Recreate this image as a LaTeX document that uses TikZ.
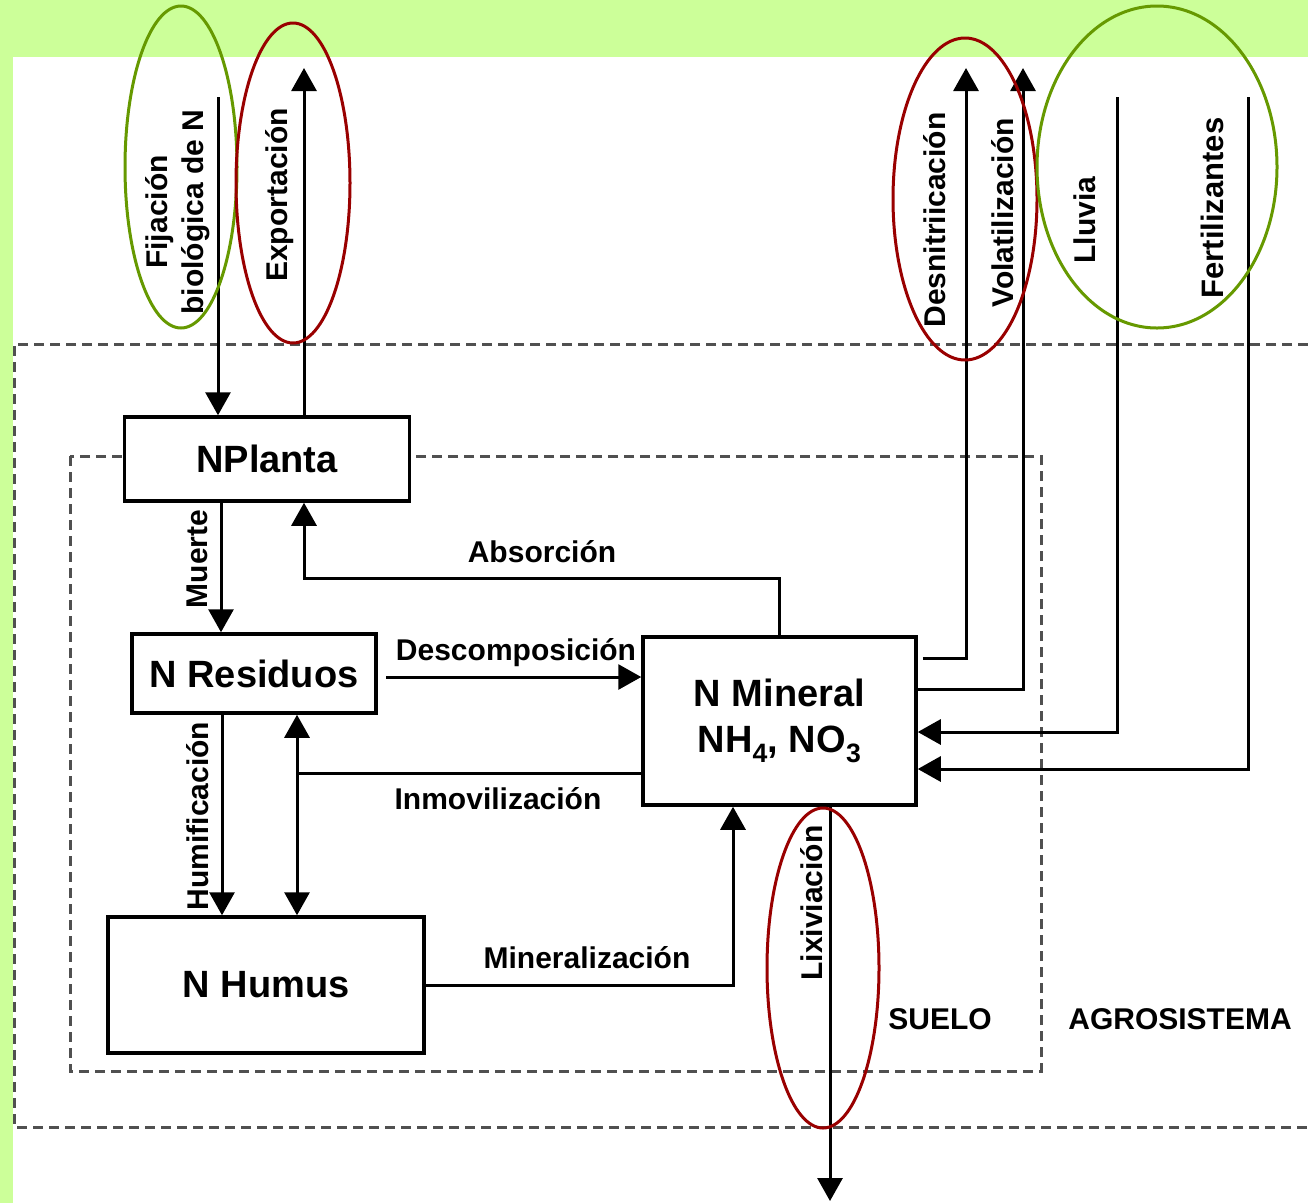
\documentclass[tikz,border=0pt]{standalone}
\usepackage{fontspec}
\setmainfont{Liberation Sans}
\usetikzlibrary{arrows.meta}
\definecolor{bggreen}{HTML}{CCFF99}
\definecolor{ellred}{HTML}{990000}
\definecolor{ellgreen}{HTML}{669900}
\definecolor{dashgray}{HTML}{505050}
\begin{document}
\begin{tikzpicture}[x=1pt,y=-1pt,
  arr/.style={line width=3pt,-{Triangle[length=23pt,width=25pt]}},
  plain/.style={line width=3pt},
  dbl/.style={line width=3pt,{Triangle[length=23pt,width=25pt]}-{Triangle[length=23pt,width=25pt]}},
  dashline/.style={dashgray,line width=3pt,dash pattern=on 10pt off 6pt},
  box/.style={draw,line width=3.5pt,fill=white,font=\fontsize{38}{46}\selectfont\bfseries,inner sep=0pt,align=center},
  lbl/.style={font=\fontsize{30}{36}\selectfont\bfseries,inner sep=0pt},
  vlbl/.style={lbl,rotate=90},
  ring/.style={line width=3pt}]
\useasboundingbox (0,0) rectangle (1308,1203);
\fill[white] (0,0) rectangle (1308,1203);
\fill[bggreen] (0,0) rectangle (1308,57);
\fill[bggreen] (0,0) rectangle (13,1203);

% dashed system borders
\draw[dashline] (1308,344) -- (14,344) -- (14,1127) -- (1308,1127);
\draw[dashline] (70,456) rectangle (1041,1071);

% boxes
\node[box,minimum width=285pt,minimum height=84pt] (pl) at (267,459) {NPlanta};
\node[box,minimum width=244pt,minimum height=79pt] (res) at (254,673.5) {N Residuos};
\node[box,minimum width=273pt,minimum height=168pt] (min) at (779.5,721) {N Mineral\\NH\textsubscript{4}, NO\textsubscript{3}};
\node[box,minimum width=316pt,minimum height=136pt] (hum) at (266,985) {N Humus};

% coordinates
\coordinate (fijtop) at (218,97);
\coordinate (exptop) at (304,68);
\coordinate (mx) at (221,600);
\coordinate (absA) at (779,578);
\coordinate (absB) at (304,578);
\coordinate (desc) at (386,677);
\coordinate (inmA) at (297,773);
\coordinate (humx) at (222,800);
\coordinate (minA) at (733,985);
\coordinate (lixbot) at (830,1201);
\coordinate (desA) at (966,658);
\coordinate (destop) at (966,68);
\coordinate (volA) at (1023,689);
\coordinate (voltop) at (1023,68);
\coordinate (llutop) at (1117,97);
\coordinate (lluA) at (1117,732);
\coordinate (fertop) at (1248,97);
\coordinate (ferA) at (1248,769);

% connectors
\draw[arr] (fijtop) -- (fijtop |- pl.north);
\draw[arr] (exptop |- pl.north) -- (exptop);
\draw[arr] (mx |- pl.south) -- (mx |- res.north);
\draw[arr] (absA |- min.north) -- (absA) -- (absB) -- (absB |- pl.south);
\draw[arr] (desc) -- (desc -| min.west);
\draw[plain] (inmA -| min.west) -- (inmA);
\draw[dbl] (inmA |- res.south) -- (inmA |- hum.north);
\draw[arr] (humx |- res.south) -- (humx |- hum.north);
\draw[arr] (minA -| hum.east) -- (minA) -- (minA |- min.south);
\draw[arr] (lixbot |- min.south) -- (lixbot);
\draw[arr] ([xshift=5pt]desA -| min.east) -- (desA) -- (destop);
\draw[arr] (volA -| min.east) -- (volA) -- (voltop);
\draw[arr] (llutop) -- (lluA) -- (lluA -| min.east);
\draw[arr] (fertop) -- (ferA) -- (ferA -| min.east);

% labels
\node[vlbl,align=center] (lfij) at (178,212) {Fijación\\biológica de N};
\node[vlbl,anchor=base] (lexp) at (287,195) {Exportación};
\node[vlbl,anchor=base] (lmue) at (207,559) {Muerte};
\node[vlbl,anchor=base] (lhum) at (208,816) {Humificación};
\node[vlbl,anchor=base] (llix) at (822,903) {Lixiviación};
\node[vlbl,anchor=base] (ldes) at (945,220) {Desnitriicación};
\node[vlbl,anchor=base] (lvol) at (1013,213) {Volatilización};
\node[vlbl,anchor=base] (lllu) at (1095,220) {Lluvia};
\node[vlbl,anchor=base,font=\fontsize{31}{36}\selectfont\bfseries] (lfer) at (1223,208) {Fertilizantes};
\node[lbl,anchor=base] (labs) at (542,562) {Absorción};
\node[lbl,anchor=base] (ldesc) at (516,660) {Descomposición};
\node[lbl,anchor=base] (linm) at (498,809) {Inmovilización};
\node[lbl,anchor=base] (lmin) at (587,968) {Mineralización};
\node[lbl,anchor=base] (lsue) at (940,1029) {SUELO};
\node[lbl,anchor=base] (lagr) at (1180,1029) {AGROSISTEMA};

% highlight ellipses
\draw[ring,ellgreen] (181,167) ellipse [x radius=56pt,y radius=161pt];
\draw[ring,ellred] (293,183) ellipse [x radius=57pt,y radius=160pt];
\draw[ring,ellred] (965,199) ellipse [x radius=72pt,y radius=161pt];
\draw[ring,ellgreen] (1157,167) ellipse [x radius=120pt,y radius=161pt];
\draw[ring,ellred] (823,968) ellipse [x radius=56pt,y radius=160pt];
\end{tikzpicture}
\end{document}
